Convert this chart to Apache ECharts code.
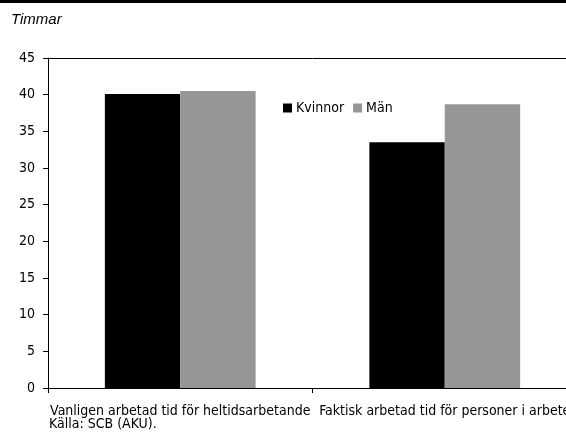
<!DOCTYPE html>
<html>
<head>
<meta charset="utf-8">
<script src="https://cdn.jsdelivr.net/npm/echarts@6/dist/echarts.min.js"></script>
<style>
html,body{margin:0;padding:0;background:#fff;overflow:hidden;width:566px;height:442px;}
#c{width:577px;height:442px;}
</style>
</head>
<body>
<div id="c"></div>
<script>
const categories = ['Vanligen arbetad tid för heltidsarbetande', 'Faktisk arbetad tid för personer i arbete'];
const kvinnor = [40.1, 33.5];
const man = [40.5, 38.7];
const seriesNames = ['Kvinnor', 'Män'];
const yTicks = {min: 0, max: 45, interval: 5};

// pick a condensed font that is available
const mc = document.createElement('canvas').getContext('2d');
function w(font) { mc.font = font; return mc.measureText(categories[0]).width; }
const candidates = [
  {weight: 'normal', fam: "'Liberation Sans Narrow'"},
  {weight: 'normal', fam: "'DejaVu Sans Condensed'"},
  {weight: 'normal condensed', fam: "'DejaVu Sans'"},
  {weight: 'normal condensed', fam: "'Liberation Sans'"}
];
let pick = null;
const ref = w("14px monospace");
for (const c of candidates) {
  const wd = w(c.weight + ' 14px ' + c.fam + ', monospace');
  if (Math.abs(wd - ref) > 1 && wd > 215 && wd < 285) { pick = {weight: c.weight, fam: c.fam, size: 14 * 256 / wd}; break; }
}
if (!pick) {
  const wd = w("14px 'Liberation Sans'");
  pick = {weight: 'normal', fam: "'Liberation Sans'", size: Math.max(12, 14 * 256 / wd)};
}
const FONT = pick.fam + ", sans-serif";
const FW = pick.weight;
const FS = Math.round(pick.size * 2) / 2;
const T = {fontFamily: FONT, fontWeight: FW, fontSize: FS, color: '#000'};

const chart = echarts.init(document.getElementById('c'), null, {renderer: 'canvas'});
chart.setOption({
  animation: false,
  backgroundColor: '#fff',
  grid: {left: 48, top: 58, bottom: 54, right: 0},
  legend: {
    left: 283, top: 101, padding: 0, itemWidth: 9, itemHeight: 9, itemGap: 9, icon: 'rect',
    textStyle: Object.assign({}, T, {padding: [0, 0, 0, -1]}),
    data: seriesNames
  },
  xAxis: [{
    type: 'category', data: categories,
    axisLine: {lineStyle: {color: '#000', width: 1}},
    axisTick: {show: true, length: 5, lineStyle: {color: '#000'}},
    axisLabel: Object.assign({interval: 0, margin: 16}, T)
  }, {
    type: 'category', data: categories, position: 'top',
    axisLine: {show: true, lineStyle: {color: '#000', width: 1}},
    axisTick: {show: false}, axisLabel: {show: false}
  }],
  yAxis: {
    type: 'value', min: yTicks.min, max: yTicks.max, interval: yTicks.interval,
    splitLine: {show: false},
    axisLine: {show: true, lineStyle: {color: '#000', width: 1}},
    axisTick: {show: true, length: 5, lineStyle: {color: '#000'}},
    axisLabel: Object.assign({margin: 13}, T)
  },
  series: [
    {name: seriesNames[0], type: 'bar', data: kvinnor, itemStyle: {color: '#000'}, barGap: '0%', barCategoryGap: '43%'},
    {name: seriesNames[1], type: 'bar', data: man, itemStyle: {color: '#969696'}, barGap: '0%', barCategoryGap: '43%'}
  ],
  graphic: [
    {type: 'rect', left: 0, top: 0, shape: {width: 577, height: 3}, style: {fill: '#000'}},
    {type: 'text', left: 11, top: 12, style: {text: 'Timmar', font: "italic 15px 'Liberation Sans', Arial, sans-serif", fill: '#000'}},
    {type: 'text', left: 49, top: 417, style: {text: 'Källa: SCB (AKU).', font: FW + ' ' + FS + 'px ' + FONT, fill: '#000'}}
  ]
});
</script>
</body>
</html>
